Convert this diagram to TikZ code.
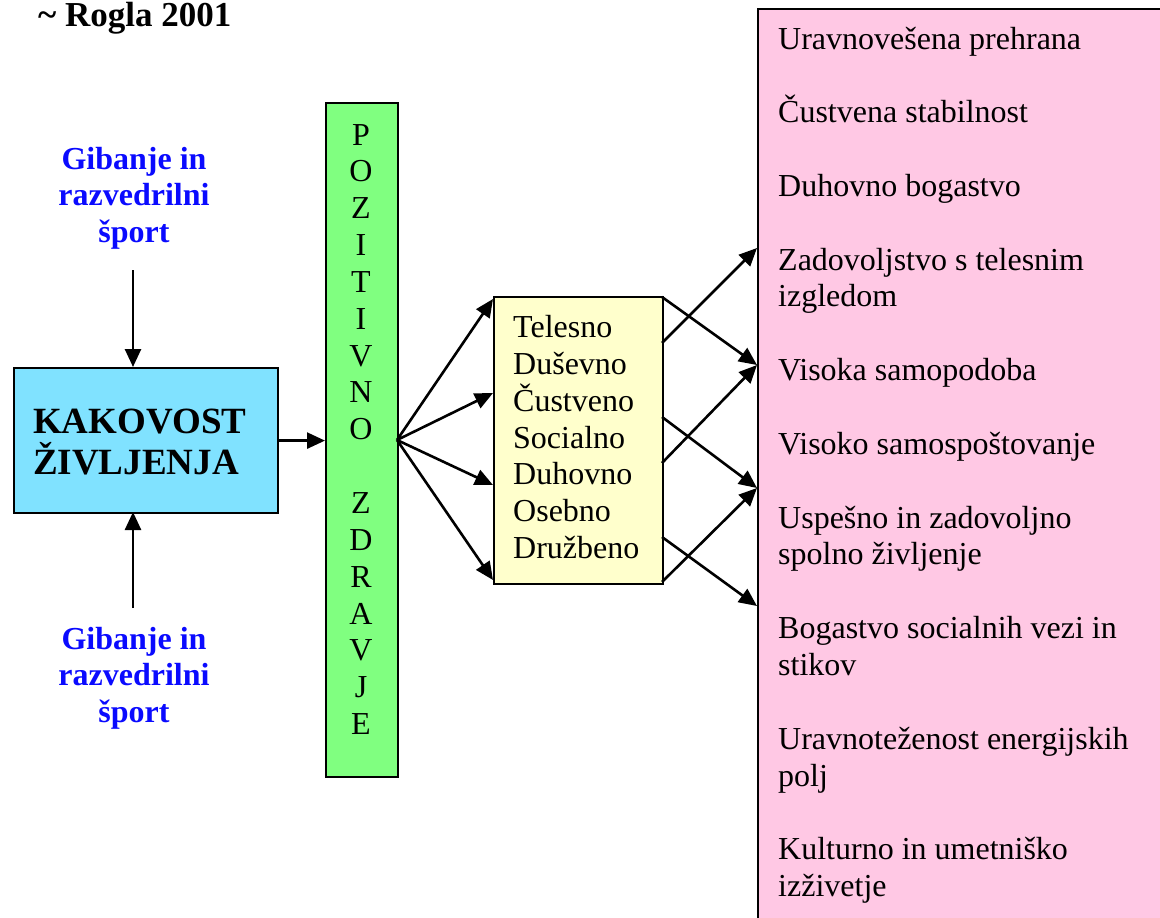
\documentclass[tikz,border=0pt]{standalone}
\usepackage{fontspec}
\setmainfont{Liberation Serif}
\usetikzlibrary{arrows.meta}
\definecolor{cyanbox}{RGB}{128,226,255}
\definecolor{greenbox}{RGB}{128,255,128}
\definecolor{yellowbox}{RGB}{255,255,204}
\definecolor{pinkbox}{RGB}{255,200,228}
\definecolor{sportblue}{RGB}{10,10,255}
\tikzset{
  box/.style={draw=black, line width=2.2pt, inner sep=0pt, anchor=north west},
  arr/.style={-{Triangle[length=18pt,width=16pt]}, line width=2.6pt},
  txt/.style={inner sep=0pt, font=\fontsize{32}{36.85}\selectfont},
  body/.style={txt, anchor=base west},
  letter/.style={txt, anchor=base},
  sport/.style={inner sep=0pt, anchor=base, text=sportblue, font=\fontsize{32}{36.85}\selectfont\bfseries},
  title/.style={inner sep=0pt, anchor=base west, font=\fontsize{37}{42}\selectfont\bfseries},
}
\begin{document}
\begin{tikzpicture}[x=1pt,y=-1pt]
\useasboundingbox (0,0) rectangle (1160,918);
\clip (0,0) rectangle (1160,918);
% boxes
\node[box, fill=pinkbox, minimum width=440pt, minimum height=950pt] (pink) at (757,8) {};
\node[box, fill=cyanbox, minimum width=264pt, minimum height=145pt] (life) at (13,367) {};
\node[box, fill=greenbox, minimum width=72pt, minimum height=674pt] (health) at (325,102) {};
\node[box, fill=yellowbox, minimum width=169pt, minimum height=287pt] (aspects) at (493,296) {};
% source
\node[inner sep=0pt, anchor=base west, font=\fontsize{35}{40}\selectfont\bfseries] (src) at (38,26.5) {\textasciitilde{} Rogla 2001};
% title in cyan box
\node[title] (t1) at (33,433) {KAKOVOST};
\node[title] (t2) at (33,474) {ŽIVLJENJA};
% blue labels
\node[sport] (g1) at (134,169) {Gibanje in};
\node[sport] (g2) at (134,205.85) {razvedrilni};
\node[sport] (g3) at (134,242.7) {šport};
\node[sport] (h1) at (134,649) {Gibanje in};
\node[sport] (h2) at (134,685.85) {razvedrilni};
\node[sport] (h3) at (134,722.7) {šport};
% vertical letters
\foreach \k/\l in {0/P,1/O,2/Z,3/I,4/T,5/I,6/V,7/N,8/O,10/Z,11/D,12/R,13/A,14/V,15/J,16/E}
  \node[letter] (L\k) at (361,145+36.85*\k) {\l};
% yellow list
\foreach \k/\t in {0/Telesno,1/Duševno,2/Čustveno,3/Socialno,4/Duhovno,5/Osebno,6/Družbeno}
  \node[body] (y\k) at (513,337.5+36.85*\k) {\t};
% pink list
\foreach \k/\t in {0/Uravnovešena prehrana,2/Čustvena stabilnost,4/Duhovno bogastvo,
  6/Zadovoljstvo s telesnim,7/izgledom,9/Visoka samopodoba,11/Visoko samospoštovanje,
  13/Uspešno in zadovoljno,14/spolno življenje,16/Bogastvo socialnih vezi in,17/stikov,
  19/Uravnoteženost energijskih,20/polj,22/Kulturno in umetniško,23/izživetje}
  \node[body] (p\k) at (778,49+36.85*\k) {\t};
% connector end points
\coordinate (up1) at (133,270);
\coordinate (upT) at (133,367);
\coordinate (dn1) at (133,608);
\coordinate (dnT) at (133,512);
\coordinate (fan) at (397,440);
\coordinate (a1) at (493,299);
\coordinate (a2) at (493,393);
\coordinate (a3) at (493,485);
\coordinate (a4) at (493,580);
\coordinate (o1) at (662,297);
\coordinate (o2) at (662,343);
\coordinate (o3) at (662,417);
\coordinate (o4) at (662,463);
\coordinate (o5) at (662,537);
\coordinate (o6) at (662,582);
\coordinate (r1) at (757,248);
\coordinate (r2) at (757,365);
\coordinate (r3) at (757,488);
\coordinate (r4) at (757,606);
% connectors
\draw[arr] (up1) -- (upT);
\draw[arr] (dn1) -- (dnT);
\draw[arr] (life.east) -- (life.east -| health.west);
\foreach \a in {a1,a2,a3,a4} \draw[arr] (fan) -- (\a);
\draw[arr] (o1) -- (r2);
\draw[arr] (o2) -- (r1);
\draw[arr] (o3) -- (r3);
\draw[arr] (o4) -- (r2);
\draw[arr] (o5) -- (r4);
\draw[arr] (o6) -- (r3);
\end{tikzpicture}
\end{document}
